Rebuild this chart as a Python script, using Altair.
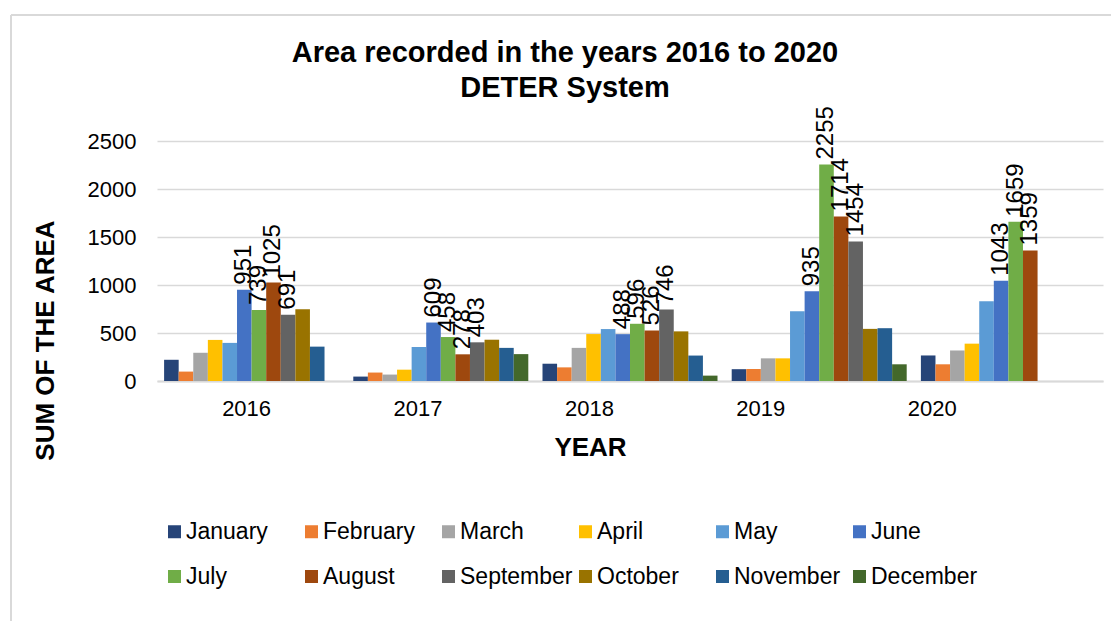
import altair as alt
import pandas as pd

years = ["2016", "2017", "2018", "2019", "2020"]
months = ["January", "February", "March", "April", "May", "June",
          "July", "August", "September", "October", "November", "December"]
colors = ["#264478", "#ED7D31", "#A5A5A5", "#FFC000", "#5B9BD5", "#4472C4",
          "#70AD47", "#9E480E", "#636363", "#997300", "#255E91", "#43682B"]

area_2016 = [221, 98, 294, 428, 397, 951, 739, 1025, 691, 747, 358, None]
area_2017 = [46, 88, 67, 118, 355, 609, 458, 278, 403, 430, 345, 280]
area_2018 = [180, 142, 345, 489, 541, 488, 596, 526, 746, 517, 265, 56]
area_2019 = [123, 125, 236, 236, 727, 935, 2255, 1714, 1454, 543, 550, 174]
area_2020 = [266, 174, 318, 389, 830, 1043, 1659, 1359, None, None, None, None]
labeled_months = ["June", "July", "August", "September"]

rows = []
for year, vals in zip(years, [area_2016, area_2017, area_2018, area_2019, area_2020]):
    for m, v in zip(months, vals):
        if v is not None:
            rows.append({"year": year, "month": m, "area": v, "show": m in labeled_months})
df = pd.DataFrame(rows)

font = "Liberation Sans"
grey = "#d9d9d9"

x = alt.X(
    "year:N",
    scale=alt.Scale(domain=years, paddingInner=0.075, paddingOuter=0.0375),
    axis=alt.Axis(
        title="YEAR", labelAngle=0, ticks=False, grid=False,
        domainColor=grey, domainWidth=2,
        labelFontSize=22, labelPadding=17, labelColor="#000000",
        labelOffset=alt.ExprRef(expr="-5 - 17.8 * (toNumber(datum.value) - 2016)"),
        titleFontSize=26, titleFontWeight="bold", titleColor="#000000",
        titleX=433, titleY=66, titleBaseline="middle", titleAlign="center",
    ),
)
y = alt.Y(
    "area:Q",
    scale=alt.Scale(domain=[0, 2500], nice=False),
    axis=alt.Axis(
        title="SUM OF THE AREA", values=[0, 500, 1000, 1500, 2000, 2500], format="d",
        ticks=False, domain=False, gridColor=grey, gridWidth=1.5,
        labelFontSize=22, labelPadding=21, labelColor="#000000",
        titleFontSize=26, titleFontWeight="bold", titleColor="#000000",
        titleAngle=270, titleX=-112, titleY=199,
        titleAlign="center", titleBaseline="middle",
    ),
)
xoff = alt.XOffset("month:N", scale=alt.Scale(domain=months, paddingInner=0, paddingOuter=0))
color = alt.Color(
    "month:N",
    scale=alt.Scale(domain=months, range=colors),
    legend=alt.Legend(
        title=None, orient="none", legendX=6, legendY=379, columns=6,
        direction="horizontal",
        symbolType="square", symbolSize=169, symbolStrokeWidth=0,
        labelFontSize=23, labelColor="#000000", labelOffset=0,
        labelLimit=0, gridAlign="all", columnPadding=1, rowPadding=21,
    ),
)

bars = alt.Chart(df).mark_bar().encode(x=x, xOffset=xoff, y=y, color=color)
labels = alt.Chart(df).transform_filter("datum.show").mark_text(
    angle=270, align="left", baseline="middle", dx=5, fontSize=24, color="#000000"
).encode(x=x, xOffset=xoff, y=y, text=alt.Text("area:Q"))

frame = pd.DataFrame({"k": [0]})
left_border = alt.Chart(frame).mark_rule(color=grey, strokeWidth=2).encode(
    x=alt.value(-146), y=alt.value(-126), y2=alt.value(520)
)
top_border = alt.Chart(frame).mark_rule(color=grey, strokeWidth=2).encode(
    x=alt.value(-146), x2=alt.value(1000), y=alt.value(-126)
)

chart = alt.layer(left_border, top_border, bars, labels).properties(
    width=946, height=240,
    autosize=alt.AutoSizeParams(type="none"),
    padding={"left": 149, "top": 133, "right": 8, "bottom": 240},
    title=alt.TitleParams(
        ["Area recorded in the years 2016 to 2020", "DETER System"],
        fontSize=29, fontWeight="bold", color="#000000", anchor="middle", lineHeight=35,
        frame="group", dx=-65, dy=93,
    ),
).configure(font=font).configure_view(stroke=None)

chart.save("out.html", embed_options={"renderer": "svg", "actions": False})
